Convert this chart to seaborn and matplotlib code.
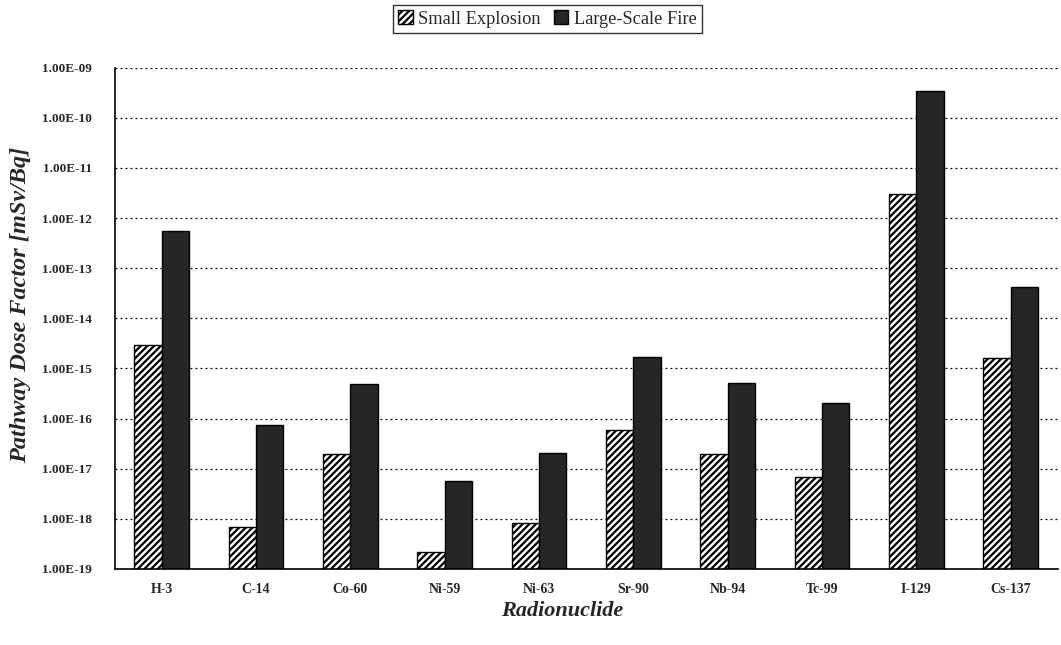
import numpy as np
import pandas as pd
from matplotlib import pyplot as plt
from matplotlib.patches import Patch
from matplotlib.ticker import FixedLocator, FuncFormatter, NullLocator
import seaborn as sns

nuclides = ['H-3', 'C-14', 'Co-60', 'Ni-59', 'Ni-63', 'Sr-90', 'Nb-94', 'Tc-99', 'I-129', 'Cs-137']
small_explosion = [2.9e-15, 6.8e-19, 2.0e-17, 2.2e-19, 8.2e-19, 6.0e-17, 2.0e-17, 6.9e-18, 3.0e-12, 1.6e-15]
large_fire = [5.5e-13, 7.6e-17, 4.9e-16, 5.6e-18, 2.1e-17, 1.66e-15, 5.1e-16, 2.0e-16, 3.5e-10, 4.2e-14]
series = ['Small Explosion', 'Large-Scale Fire']

df = pd.DataFrame({
    'Radionuclide': nuclides * 2,
    'Scenario': [series[0]] * len(nuclides) + [series[1]] * len(nuclides),
    'Factor': small_explosion + large_fire,
})

sns.set_style('white')
plt.rcParams['font.family'] = ['Liberation Serif', 'DejaVu Serif']
plt.rcParams['hatch.linewidth'] = 1.6

fig = plt.figure(figsize=(10.61, 6.45), dpi=100)
ax = fig.add_axes([0.108, 0.118, 0.889, 0.777])
ax.set_yscale('log')

sns.barplot(data=df, x='Radionuclide', y='Factor', hue='Scenario', hue_order=series,
            palette=['white', '#262626'], width=0.58, edgecolor='black', linewidth=1.0,
            ax=ax, legend=False)

# hatched white bars for the first scenario
for bar in ax.containers[0]:
    bar.set_facecolor('white')
    bar.set_hatch('/////')
    bar.set_edgecolor('black')

ax.set_ylim(1e-19, 1e-9)
ax.set_xlim(-0.5, 9.5)
ticks = [10.0 ** e for e in range(-19, -8)]
ax.yaxis.set_major_locator(FixedLocator(ticks))
ax.yaxis.set_minor_locator(NullLocator())
ax.yaxis.set_major_formatter(FuncFormatter(lambda v, p: f'{v:.2E}'))
ax.yaxis.grid(True, color='black', linestyle=(0, (1.5, 2.5)), linewidth=0.9)
ax.set_axisbelow(True)

for s in ['left', 'bottom']:
    ax.spines[s].set_color('black')
    ax.spines[s].set_linewidth(1.2)
ax.spines['right'].set_visible(False)
ax.spines['top'].set_visible(False)

ax.tick_params(axis='y', which='major', length=4, width=0.8, color='black', direction='out', labelsize=9.5, pad=12)
ax.tick_params(axis='x', length=0, labelsize=10, pad=10)
for lab in ax.get_yticklabels() + ax.get_xticklabels():
    lab.set_fontweight('bold')

ax.set_xlabel('Radionuclide', fontsize=16, fontstyle='italic', fontweight='bold')
ax.xaxis.set_label_coords(0.474, -0.064)
ax.set_ylabel('Pathway Dose Factor [mSv/Bq]', fontsize=17.5, fontstyle='italic', fontweight='bold')
ax.yaxis.set_label_coords(-0.089, 0.527)

handles = [Patch(facecolor='white', edgecolor='black', hatch='/////', label=series[0]),
           Patch(facecolor='#262626', edgecolor='black', label=series[1])]
leg = fig.legend(handles=handles, loc='center', bbox_to_anchor=(0.516, 0.9705), ncol=2,
                 frameon=True, fancybox=False, edgecolor='black', fontsize=13.2,
                 handlelength=0.8, handleheight=0.8, handletextpad=0.3, columnspacing=0.7,
                 borderpad=0.3, borderaxespad=0)
leg.get_frame().set_linewidth(1.0)

plt.savefig('out.png', dpi=100)
